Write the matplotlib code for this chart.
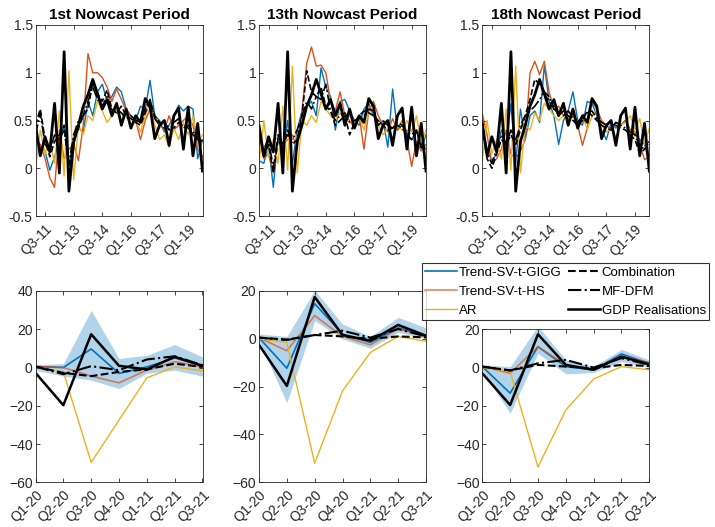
import matplotlib
matplotlib.use("Agg")
import matplotlib.pyplot as plt
import numpy as np

plt.rcParams['font.family'] = ['Liberation Sans', 'DejaVu Sans']

# quarter labels for the pre-covid sample Q1-11 .. Q4-19
years_pre = range(11, 20)
quarters_pre = [f"Q{q}-{y}" for y in years_pre for q in range(1, 5)]
tick_pre = ["Q3-11", "Q1-13", "Q3-14", "Q1-16", "Q3-17", "Q1-19"]

quarters_covid = ["Q1-20", "Q2-20", "Q3-20", "Q4-20", "Q1-21", "Q2-21", "Q3-21"]

titles = ["1st Nowcast Period", "13th Nowcast Period", "18th Nowcast Period"]

# GDP realisations (same in every panel)
gdp_pre = [0.45, 0.13, 0.33, 0.17, 0.68, -0.05, 1.22, -0.24, 0.28, 0.45, 0.65, 0.77,
           0.93, 0.78, 0.62, 0.72, 0.55, 0.68, 0.45, 0.62, 0.42, 0.55, 0.48, 0.73,
           0.65, 0.31, 0.45, 0.50, 0.24, 0.55, 0.63, 0.20, 0.64, 0.13, 0.47, -0.03]

# 1st nowcast period
gigg1 = [0.30, 0.22, 0.18, -0.02, 0.12, 0.30, 0.45, 0.05, 0.25, 0.42, 0.38, 0.70,
         0.55, 0.80, 0.88, 0.70, 0.75, 0.85, 0.80, 0.62, 0.55, 0.50, 0.65, 0.62,
         0.92, 0.55, 0.50, 0.38, 0.45, 0.55, 0.66, 0.60, 0.65, 0.62, 0.10, 0.30]
hs1 = [0.30, 0.25, 0.10, -0.10, -0.20, 0.40, 0.10, 0.20, 0.25, 0.08, 0.45, 1.20,
       1.00, 1.00, 0.95, 0.85, 0.70, 0.83, 0.72, 0.60, 0.55, 0.50, 0.30, 0.50,
       0.62, 0.55, 0.45, 0.40, 0.55, 0.40, 0.45, 0.50, 0.55, 0.45, 0.20, 0.12]
ar1 = [0.00, 0.40, 0.15, 0.28, 0.05, 0.60, -0.08, 1.02, -0.12, 0.45, 0.35, 0.55,
       0.50, 0.70, 0.60, 0.48, 0.55, 0.62, 0.45, 0.58, 0.42, 0.50, 0.38, 0.55,
       0.68, 0.45, 0.30, 0.35, 0.22, 0.42, 0.30, 0.48, 0.35, 0.55, 0.25, 0.35]
comb1 = [0.45, 0.62, 0.30, 0.12, 0.28, 0.35, 0.45, -0.02, 0.30, 0.42, 0.55, 0.62,
         0.90, 0.78, 0.70, 0.82, 0.62, 0.58, 0.65, 0.55, 0.52, 0.48, 0.45, 0.58,
         0.70, 0.55, 0.48, 0.42, 0.45, 0.42, 0.48, 0.45, 0.42, 0.35, 0.30, 0.25]
dfm1 = [0.35, 0.58, 0.25, 0.18, 0.35, 0.30, 0.40, 0.05, 0.35, 0.50, 0.55, 0.70,
        0.85, 0.72, 0.65, 0.75, 0.60, 0.62, 0.58, 0.52, 0.55, 0.50, 0.48, 0.62,
        0.72, 0.52, 0.45, 0.48, 0.40, 0.48, 0.52, 0.42, 0.45, 0.38, 0.32, 0.28]

# 13th nowcast period
gigg2 = [0.08, 0.05, 0.25, -0.20, 0.35, 0.15, 0.50, 0.05, 0.40, 0.60, 0.65, 0.70,
         0.55, 1.05, 0.85, 0.75, 0.40, 0.70, 0.72, 0.60, 0.50, 0.45, 0.62, 0.68,
         0.55, 0.45, 0.50, 0.22, 0.83, 0.40, 0.45, 0.35, 0.30, 0.40, 0.20, 0.35]
hs2 = [0.30, 0.10, 0.15, -0.05, 0.30, 0.25, 0.30, 0.35, 0.20, 0.60, 1.10, 1.27,
       1.07, 1.08, 1.00, 0.70, 0.60, 0.80, 0.55, 0.50, 0.42, 0.55, 0.20, 0.60,
       0.70, 0.55, 0.45, 0.38, 0.52, 0.40, 0.50, 0.30, 0.02, 0.28, 0.18, 0.25]
ar2 = [0.05, 0.50, 0.12, 0.30, 0.05, 0.65, -0.02, 1.07, -0.05, 0.50, 0.45, 0.55,
       0.48, 0.70, 0.62, 0.55, 0.50, 0.58, 0.50, 0.55, 0.45, 0.55, 0.40, 0.58,
       0.62, 0.45, 0.35, 0.42, 0.30, 0.45, 0.40, 0.50, 0.38, 0.55, 0.25, 0.40]
comb2 = [0.40, 0.12, 0.25, -0.05, 0.30, 0.20, 0.40, 0.25, 0.30, 0.55, 1.02, 0.80,
         0.75, 0.85, 0.65, 0.60, 0.45, 0.50, 0.55, 0.35, 0.48, 0.55, 0.60, 0.58,
         0.55, 0.50, 0.45, 0.40, 0.42, 0.45, 0.42, 0.35, 0.30, 0.38, 0.25, 0.20]
dfm2 = [0.35, 0.20, 0.30, 0.00, 0.35, 0.25, 0.35, 0.30, 0.40, 0.55, 0.70, 0.62,
        0.75, 0.72, 0.88, 0.60, 0.50, 0.55, 0.58, 0.48, 0.50, 0.52, 0.55, 0.62,
        0.60, 0.45, 0.50, 0.45, 0.42, 0.48, 0.45, 0.38, 0.35, 0.40, 0.22, 0.20]

# 18th nowcast period
gigg3 = [0.50, 0.20, 0.08, 0.15, 0.40, 0.25, 0.68, 0.05, 0.62, 0.30, 0.55, 0.60,
         0.48, 1.08, 0.70, 0.55, 0.25, 0.50, 0.60, 0.80, 0.50, 0.45, 0.70, 0.68,
         0.55, 0.40, 0.30, 0.48, 0.42, 0.45, 0.50, 0.40, 0.35, 0.30, 0.25, 0.05]
hs3 = [0.57, 0.35, 0.05, 0.10, 0.20, 0.40, 0.15, 0.10, 0.18, 0.30, 1.00, 1.12,
       0.98, 1.12, 0.80, 0.62, 0.65, 0.55, 0.60, 0.55, 0.45, 0.24, 0.42, 0.70,
       0.62, 0.50, 0.45, 0.40, 0.48, 0.45, 0.50, 0.40, 0.38, 0.25, 0.09, 0.12]
ar3 = [0.08, 0.50, 0.15, 0.30, 0.10, 0.62, -0.02, 1.07, -0.05, 0.45, 0.40, 0.58,
       0.50, 0.68, 0.62, 0.55, 0.50, 0.55, 0.52, 0.58, 0.48, 0.55, 0.40, 0.55,
       0.62, 0.45, 0.38, 0.42, 0.32, 0.45, 0.48, 0.55, 0.40, 0.52, 0.25, 0.42]
comb3 = [0.50, 0.10, 0.00, 0.15, 0.30, 0.25, 0.35, 0.25, 0.40, 0.55, 0.72, 0.93,
         0.88, 0.78, 0.70, 0.65, 0.55, 0.60, 0.55, 0.50, 0.45, 0.50, 0.60, 0.55,
         0.50, 0.45, 0.42, 0.40, 0.45, 0.42, 0.40, 0.35, 0.30, 0.15, 0.20, 0.25]
dfm3 = [0.45, 0.15, 0.05, 0.20, 0.35, 0.25, 0.40, 0.30, 0.45, 0.55, 0.60, 0.65,
        0.72, 0.80, 0.75, 0.62, 0.58, 0.55, 0.60, 0.52, 0.48, 0.55, 0.58, 0.60,
        0.52, 0.48, 0.45, 0.42, 0.48, 0.45, 0.42, 0.38, 0.35, 0.20, 0.22, 0.28]

# covid period, one list per panel
gdp_c = [[-2.8, -19.7, 17.4, 0.9, -1.0, 5.6, 0.9],
         [-2.5, -19.7, 17.5, 1.6, -0.8, 5.8, 1.3],
         [-3.0, -19.6, 17.4, 1.4, -1.2, 5.7, 1.7]]
gigg_c = [[0.5, 0.0, 9.7, -3.1, 0.3, 5.0, 0.8],
          [0.5, -12.3, 14.7, 2.0, -1.5, 4.6, 1.0],
          [0.5, -13.4, 10.9, 0.5, -1.2, 7.1, 2.2]]
gigg_lo = [[-1.4, -4.5, -6.6, -11.0, -3.0, -1.4, -4.5],
           [-1.0, -26.7, 7.6, -0.1, -3.9, 2.7, 0.2],
           [-1.5, -23.9, 7.5, -3.3, -2.6, 3.1, 0.1]]
gigg_hi = [[1.5, 2.0, 29.9, 4.7, 6.4, 12.0, 5.6],
           [2.0, 1.0, 20.3, 6.2, 1.0, 9.0, 4.6],
           [1.5, 0.5, 21.7, 4.0, 0.5, 9.5, 4.0]]
hs_c = [[0.5, 0.0, -4.5, -8.0, -1.4, 3.0, 0.3],
        [0.5, -5.0, 9.7, 1.0, -2.5, 4.1, 1.0],
        [0.5, -3.0, 10.9, 1.4, -1.2, 6.0, 2.6]]
ar_c = [[0.0, -2.3, -49.6, -27.5, -5.4, 0.3, -1.7],
        [0.0, -1.5, -52.0, -21.8, -5.7, 1.0, -1.0],
        [0.0, -2.0, -52.0, -22.2, -6.0, 0.5, -1.2]]
comb_c = [[0.5, -2.8, -4.5, -2.3, -1.0, 2.0, 0.3],
          [0.5, -0.3, 1.6, 1.0, 0.0, 1.0, 0.6],
          [0.5, -1.5, 1.4, 0.5, -0.4, 1.4, 0.8]]
dfm_c = [[0.5, -3.5, 0.7, -1.4, 4.2, 5.9, 1.2],
         [0.5, -0.5, 1.6, 3.4, 0.5, 4.1, 1.0],
         [0.5, -1.5, 2.2, 4.0, 0.0, 4.9, 1.4]]

gigg_pre = [gigg1, gigg2, gigg3]
hs_pre = [hs1, hs2, hs3]
ar_pre = [ar1, ar2, ar3]
comb_pre = [comb1, comb2, comb3]
dfm_pre = [dfm1, dfm2, dfm3]

blue = '#0072BD'
red = '#D95319'
yellow = '#EDB120'
grey = '#262626'

fig = plt.figure(figsize=(7.15, 5.27), dpi=100)
W, H = 715.0, 527.0
lefts = [35.5, 259.0, 482.3]
pw = 167.0


def style(ax):
    ax.tick_params(direction='in', top=True, right=True, length=3, width=0.6,
                   labelsize=10, colors=grey, pad=2)
    ax.tick_params(axis='x', pad=4)
    for s in ax.spines.values():
        s.set_color(grey)
        s.set_linewidth(0.6)


x_pre = np.arange(1, len(quarters_pre) + 1)
x_c = np.arange(1, len(quarters_covid) + 1)
handles = None

for i in range(3):
    # top row
    ax = fig.add_axes([lefts[i] / W, (H - 216) / H, pw / W, 191 / H])
    ax.plot(x_pre, gigg_pre[i], color=blue, lw=1.0)
    ax.plot(x_pre, hs_pre[i], color=red, lw=1.0)
    ax.plot(x_pre, ar_pre[i], color=yellow, lw=1.0)
    ax.plot(x_pre, comb_pre[i], color='k', lw=1.2, ls='--')
    ax.plot(x_pre, dfm_pre[i], color='k', lw=1.2, ls='-.')
    ax.plot(x_pre, gdp_pre, color='k', lw=2.0)
    ax.set_xlim(1, len(quarters_pre))
    ax.set_ylim(-0.5, 1.5)
    ax.set_yticks([-0.5, 0, 0.5, 1, 1.5])
    ax.set_yticklabels(["-0.5", "0", "0.5", "1", "1.5"])
    pos = [quarters_pre.index(t) + 1 for t in tick_pre]
    ax.set_xticks(pos)
    ax.set_xticklabels(tick_pre, rotation=45, ha='right', va='top',
                       rotation_mode='anchor')
    ax.set_title(titles[i], fontsize=11, fontweight='bold', pad=4)
    style(ax)

    # bottom row
    top = 291.0 if i < 2 else 329.3
    bx = fig.add_axes([lefts[i] / W, (H - 482.3) / H, pw / W, (482.3 - top) / H])
    bx.fill_between(x_c, gigg_lo[i], gigg_hi[i], color=blue, alpha=0.3, lw=0)
    h1, = bx.plot(x_c, gigg_c[i], color=blue, lw=1.2)
    h2, = bx.plot(x_c, hs_c[i], color=red, lw=1.2, alpha=0.7)
    h3, = bx.plot(x_c, ar_c[i], color=yellow, lw=1.0)
    h4, = bx.plot(x_c, comb_c[i], color='k', lw=1.5, ls='--')
    h5, = bx.plot(x_c, dfm_c[i], color='k', lw=1.5, ls='-.')
    h6, = bx.plot(x_c, gdp_c[i], color='k', lw=1.8)
    bx.set_xlim(1, len(quarters_covid))
    if i == 0:
        bx.set_ylim(-60, 40)
        bx.set_yticks([-60, -40, -20, 0, 20, 40])
    else:
        bx.set_ylim(-60, 20)
        bx.set_yticks([-60, -40, -20, 0, 20])
    bx.set_xticks(x_c)
    bx.set_xticklabels(quarters_covid, rotation=45, ha='right', va='top',
                       rotation_mode='anchor')
    style(bx)
    handles = [h1, h2, h3, h4, h5, h6]

labels = ["Trend-SV-t-GIGG", "Trend-SV-t-HS", "AR",
          "Combination", "MF-DFM", "GDP Realisations"]
leg = fig.legend(handles, labels, ncol=2, loc='upper left',
                 bbox_to_anchor=(421.7 / W, (H - 263.3) / H),
                 fontsize=9.5, frameon=True, fancybox=False,
                 borderpad=0.25, labelspacing=0.5, handlelength=2.4,
                 handletextpad=0.15, columnspacing=0.5, borderaxespad=0)
leg.get_frame().set_edgecolor('k')
leg.get_frame().set_linewidth(0.8)
for t in leg.get_texts():
    t.set_color('k')

fig.savefig('out.png', dpi=100)
